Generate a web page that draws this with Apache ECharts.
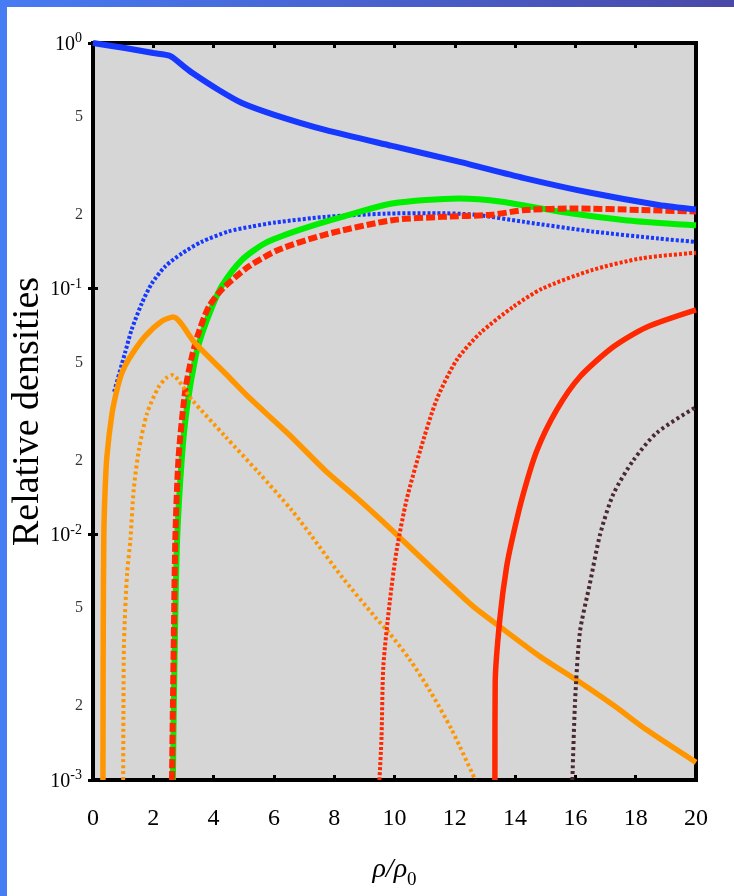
<!DOCTYPE html>
<html>
<head>
<meta charset="utf-8">
<script src="https://cdn.jsdelivr.net/npm/echarts@6/dist/echarts.min.js"></script>
<style>
  html, body { margin: 0; padding: 0; background: #fff; }
  #main { width: 734px; height: 896px; }
</style>
</head>
<body>
<div id="main"></div>
<script>
// values, [rho/rho0, relative density]
const blueSolid = [[0, 1.0], [1.06, 0.954], [2.0, 0.91], [2.56, 0.885], [2.95, 0.814], [3.3, 0.755], [4.17, 0.644], [4.94, 0.57], [6.04, 0.509], [7.7, 0.443], [9.92, 0.381], [12.13, 0.329], [14.3, 0.282], [16.55, 0.245], [18.76, 0.219], [20, 0.21]]
const blueDotted = [[0.7, 0.038], [1.06, 0.0547], [1.28, 0.068], [1.62, 0.0872], [1.95, 0.105], [2.39, 0.123], [2.94, 0.139], [3.6, 0.155], [4.49, 0.171], [5.26, 0.179], [6.05, 0.186], [7.7, 0.196], [9.7, 0.202], [11.2, 0.203], [12.67, 0.2], [14.3, 0.187], [16.55, 0.171], [18.76, 0.16], [20, 0.155]]
const greenSolid = [[2.65, 0.001], [2.68, 0.002], [2.72, 0.004], [2.79, 0.0095], [2.95, 0.0207], [3.12, 0.0331], [3.4, 0.0528], [3.62, 0.0658], [3.95, 0.0844], [4.28, 0.103], [4.94, 0.131], [5.7, 0.153], [6.82, 0.173], [8.26, 0.196], [9.92, 0.222], [12.13, 0.233], [13.56, 0.226], [15.45, 0.206], [17.65, 0.19], [20, 0.181]]
const redDashed = [[2.62, 0.001], [2.65, 0.002], [2.68, 0.0037], [2.73, 0.0095], [2.84, 0.0207], [3.06, 0.0385], [3.28, 0.0528], [3.5, 0.066], [3.84, 0.0844], [4.3, 0.1], [5.16, 0.123], [6.16, 0.144], [7.7, 0.166], [9.92, 0.19], [11.58, 0.196], [13.23, 0.2], [14.34, 0.209], [16, 0.212], [18.2, 0.209], [20, 0.206]]
const orangeSolid = [[0.33, 0.001], [0.34, 0.004], [0.36, 0.01], [0.4, 0.015], [0.46, 0.0207], [0.63, 0.031], [0.8, 0.039], [0.96, 0.0455], [1.2, 0.052], [1.72, 0.0638], [2.28, 0.0737], [2.66, 0.0766], [3.38, 0.0601], [4.49, 0.0439], [5.15, 0.0363], [6.5, 0.0255], [7.7, 0.0182], [8.8, 0.0139], [9.92, 0.0104], [10.8, 0.0082], [11.73, 0.0064], [12.6, 0.0051], [13.5, 0.0042], [14.8, 0.0032], [16.15, 0.0025], [17.3, 0.002], [18.36, 0.0016], [20, 0.00118]]
const orangeDotted = [[1.0, 0.001], [1.01, 0.002], [1.03, 0.0037], [1.13, 0.0069], [1.24, 0.0095], [1.35, 0.0152], [1.52, 0.022], [1.79, 0.031], [2.18, 0.0399], [2.45, 0.0435], [2.62, 0.0445], [3.28, 0.0353], [4.39, 0.025], [5.5, 0.0178], [6.6, 0.0125], [7.26, 0.0098], [8.26, 0.0067], [9.36, 0.0046], [9.8, 0.004], [10.5, 0.0031], [11.18, 0.0023], [11.9, 0.0016], [12.68, 0.001]]
const redDotted = [[9.5, 0.001], [9.57, 0.0015], [9.63, 0.0029], [9.85, 0.0054], [10.07, 0.0086], [10.4, 0.0138], [10.85, 0.0219], [11.4, 0.0354], [12.06, 0.0512], [12.84, 0.0659], [13.94, 0.0844], [14.9, 0.1], [16.55, 0.119], [18.2, 0.133], [20, 0.14]]
const redSolid = [[13.33, 0.001], [13.34, 0.0025], [13.5, 0.0046], [13.72, 0.0074], [13.94, 0.01], [14.27, 0.0146], [14.72, 0.0219], [15.38, 0.0321], [16.15, 0.0438], [17.26, 0.058], [18.36, 0.0697], [20, 0.082]]
const brownDotted = [[15.9, 0.001], [15.99, 0.0021], [16.15, 0.004], [16.48, 0.0063], [16.82, 0.01], [17.26, 0.0146], [17.92, 0.02], [18.7, 0.0259], [20, 0.033]]

// labels between the decades on the y axis
const minorTickValues = [0.5, 0.2, 0.05, 0.02, 0.005, 0.002]
const minorTickLabels = ['5', '2', '5', '2', '5', '2']

const serif = '"Liberation Serif", "DejaVu Serif", serif'
const chart = echarts.init(document.getElementById('main'))

function curve (name, data, color, width, type) {
  return {
    name: name,
    type: 'line',
    data: data,
    symbol: 'none',
    smooth: 0.25,
    silent: true,
    lineStyle: { color: color, width: width, type: type, cap: 'butt' }
  }
}

const tickStyle = { show: true, inside: true, length: 5, lineStyle: { color: '#000', width: 3 } }

const option = {
  backgroundColor: '#fff',
  animation: false,
  graphic: [
    { type: 'rect', shape: { x: 0, y: 0, width: 7, height: 896 }, style: { fill: '#467cf4' }, z: 100 },
    {
      type: 'rect',
      shape: { x: 0, y: 0, width: 734, height: 7 },
      style: {
        fill: new echarts.graphic.LinearGradient(0, 0, 1, 0, [
          { offset: 0, color: '#467cf4' },
          { offset: 1, color: '#4a48a8' }
        ])
      },
      z: 100
    }
  ],
  grid: {
    left: 93,
    right: 38,
    top: 43,
    bottom: 116,
    outerBoundsMode: 'none',
    show: true,
    backgroundColor: '#d6d6d6',
    borderColor: '#000',
    borderWidth: 4
  },
  xAxis: [{
    type: 'value',
    min: 0,
    max: 20,
    interval: 2,
    position: 'bottom',
    axisLine: { show: false },
    axisTick: tickStyle,
    splitLine: { show: false },
    axisLabel: { color: '#000', fontFamily: serif, fontSize: 24, margin: 27 },
    name: '{i|ρ/ρ}{s|0}',
    nameLocation: 'middle',
    nameGap: 76,
    nameTextStyle: {
      rich: {
        i: { fontFamily: serif, fontStyle: 'italic', fontSize: 28, color: '#000', verticalAlign: 'top' },
        s: { fontFamily: serif, fontSize: 19, color: '#000', verticalAlign: 'top', padding: [15, 0, 0, 0] }
      }
    }
  }, {
    type: 'value',
    min: 0,
    max: 20,
    interval: 2,
    position: 'top',
    axisLine: { show: false },
    axisTick: tickStyle,
    axisLabel: { show: false },
    splitLine: { show: false }
  }],
  yAxis: [{
    type: 'log',
    logBase: 10,
    min: 0.001,
    max: 1,
    position: 'left',
    axisLine: { show: false },
    axisTick: tickStyle,
    splitLine: { show: false },
    axisLabel: {
      margin: 11,
      formatter: function (v) {
        return '{b|10}{e|' + Math.round(Math.log10(v)) + '}'
      },
      rich: {
        b: { fontFamily: serif, fontSize: 20, color: '#000', verticalAlign: 'bottom' },
        e: { fontFamily: serif, fontSize: 14, color: '#000', verticalAlign: 'top', padding: [0, 0, 9, 0] }
      }
    },
    name: 'Relative densities',
    nameLocation: 'middle',
    nameGap: 46,
    nameMoveOverlap: false,
    nameTextStyle: { fontFamily: serif, fontSize: 38, color: '#000' }
  }, {
    type: 'log',
    logBase: 10,
    min: 0.001,
    max: 1,
    position: 'right',
    axisLine: { show: false },
    axisTick: tickStyle,
    axisLabel: { show: false },
    splitLine: { show: false }
  }],
  series: [
    curve('blue dotted', blueDotted, '#1638ff', 4, [3, 2]),
    curve('green', greenSolid, '#00ee00', 6, 'solid'),
    curve('red dashed', redDashed, '#ff2800', 6, [9, 3]),
    curve('blue', blueSolid, '#1638ff', 6, 'solid'),
    curve('orange dotted', orangeDotted, '#ff9600', 4, [3, 3]),
    curve('orange', orangeSolid, '#ff9600', 5.5, 'solid'),
    curve('red dotted', redDotted, '#ff2800', 4, [3, 2]),
    curve('red', redSolid, '#ff2800', 5.5, 'solid'),
    curve('brown dotted', brownDotted, '#4a2a30', 4, [3, 3]),
    {
      // minor y labels 5 and 2, placed by the axis scale
      type: 'scatter',
      silent: true,
      symbolSize: 0,
      clip: false,
      data: minorTickValues.map((v, i) => ({ value: [0, v], label: { formatter: minorTickLabels[i] } })),
      label: {
        show: true,
        position: 'left',
        distance: 10,
        fontFamily: serif,
        fontSize: 16,
        color: '#000'
      }
    }
  ]
}

chart.setOption(option)
</script>
</body>
</html>
